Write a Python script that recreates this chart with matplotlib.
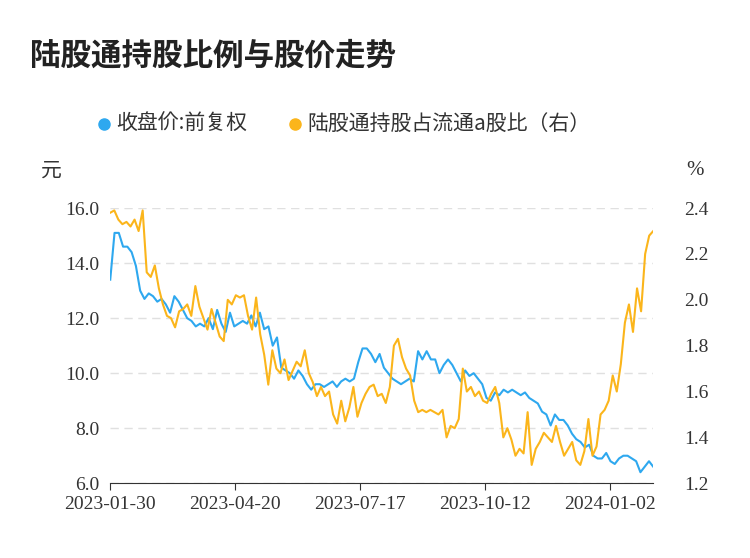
import numpy as np
import matplotlib
matplotlib.use("Agg")
import matplotlib.pyplot as plt
from matplotlib import font_manager as fm

dates = ["2023-01-30", "2023-04-20", "2023-07-17", "2023-10-12", "2024-01-02"]
price = [13.4, 15.1, 15.1, 14.6, 14.6, 14.4, 13.9, 13.0, 12.7, 12.9, 12.8, 12.6, 12.7, 12.5, 12.2, 12.8,
         12.6, 12.3, 12.0, 11.9, 11.7, 11.8, 11.7, 12.0, 11.6, 12.3, 11.8, 11.5, 12.2, 11.7, 11.8, 11.9,
         11.8, 12.1, 11.7, 12.2, 11.6, 11.7, 11.0, 11.3, 10.2, 10.1, 10.0, 9.8, 10.1, 9.9, 9.6, 9.4, 9.6,
         9.6, 9.5, 9.6, 9.7, 9.5, 9.7, 9.8, 9.7, 9.8, 10.4, 10.9, 10.9, 10.7, 10.4, 10.7, 10.2, 10.0, 9.8,
         9.7, 9.6, 9.7, 9.8, 9.7, 10.8, 10.5, 10.8, 10.5, 10.5, 10.0, 10.3, 10.5, 10.3, 10.0, 9.7, 10.1,
         9.9, 10.0, 9.8, 9.6, 9.1, 9.0, 9.3, 9.2, 9.4, 9.3, 9.4, 9.3, 9.2, 9.3, 9.1, 9.0, 8.9, 8.6, 8.5,
         8.1, 8.5, 8.3, 8.3, 8.1, 7.8, 7.6, 7.5, 7.3, 7.4, 7.0, 6.9, 6.9, 7.1, 6.8, 6.7, 6.9, 7.0, 7.0,
         6.9, 6.8, 6.4, 6.6, 6.8, 6.6]
ratio = [2.38, 2.39, 2.35, 2.33, 2.34, 2.32, 2.35, 2.30, 2.39, 2.12, 2.10, 2.15, 2.05, 1.98, 1.93, 1.92,
         1.88, 1.95, 1.96, 1.98, 1.93, 2.06, 1.97, 1.92, 1.87, 1.96, 1.90, 1.84, 1.82, 2.00, 1.98, 2.02,
         2.01, 2.02, 1.93, 1.87, 2.01, 1.85, 1.76, 1.63, 1.78, 1.70, 1.68, 1.74, 1.65, 1.69, 1.73, 1.71,
         1.78, 1.68, 1.64, 1.58, 1.62, 1.58, 1.60, 1.50, 1.46, 1.56, 1.47, 1.53, 1.62, 1.49, 1.55, 1.59,
         1.62, 1.63, 1.58, 1.59, 1.55, 1.62, 1.80, 1.83, 1.75, 1.70, 1.67, 1.56, 1.51, 1.52, 1.51, 1.52,
         1.51, 1.50, 1.52, 1.40, 1.45, 1.44, 1.48, 1.70, 1.60, 1.62, 1.58, 1.60, 1.56, 1.55, 1.59, 1.62,
         1.55, 1.40, 1.44, 1.39, 1.32, 1.35, 1.33, 1.51, 1.28, 1.35, 1.38, 1.42, 1.40, 1.38, 1.45, 1.38,
         1.32, 1.35, 1.38, 1.30, 1.28, 1.34, 1.48, 1.32, 1.36, 1.50, 1.52, 1.56, 1.67, 1.60, 1.72, 1.90,
         1.98, 1.86, 2.05, 1.95, 2.20, 2.28, 2.30]

def cjk_props(size, weight="normal"):
    files = [f for f in fm.findSystemFonts() if "CJK" in f and ("Regular" in f or "Bold" in f)]
    want = "Bold" if weight == "bold" else "Regular"
    pick = [f for f in files if want in f] or files
    if pick:
        pick.sort(key=lambda f: (0 if "SC" in f or "ttc" in f else 1))
        return fm.FontProperties(fname=pick[0], size=size)
    return fm.FontProperties(family="Noto Sans CJK SC", size=size, weight=weight)

serif = "Liberation Serif"
blue, orange = "#2ea8ef", "#fbb51b"
END = 4.344

fig = plt.figure(figsize=(7.5, 5.58), dpi=100)
ax = fig.add_axes([0.147, 0.134, 0.724, 0.493])
ax2 = ax.twinx()
ax.plot(np.linspace(0, END, len(price)), price, color=blue, lw=1.5)
ax2.plot(np.linspace(0, END, len(ratio)), ratio, color=orange, lw=1.5)
ax.set_ylim(6, 16)
ax2.set_ylim(1.2, 2.4)
ax.set_xlim(0, END)
ax.set_yticks(np.arange(6, 16.1, 2))
ax.set_yticklabels([f"{v:.1f}" for v in np.arange(6, 16.1, 2)], fontfamily=serif, fontsize=14, color="#333")
ax2.set_yticks(np.arange(1.2, 2.41, 0.2))
ax2.set_yticklabels([f"{v:.1f}" for v in np.arange(1.2, 2.41, 0.2)], fontfamily=serif, fontsize=14, color="#333")
ax.set_xticks(range(len(dates)))
ax.set_xticklabels(dates, fontfamily=serif, fontsize=14, color="#333")
ax.grid(axis="y", color="#e0e0e0", ls=(0, (6, 4)), lw=1)
for a in (ax, ax2):
    for s in a.spines.values():
        s.set_visible(False)
    a.tick_params(length=0, pad=8)
ax2.tick_params(pad=22)
ax.spines["bottom"].set_visible(True)
ax.spines["bottom"].set_color("#333")
ax.tick_params(axis="x", length=5, color="#333", pad=4)

fig.text(0.04, 0.9, "陆股通持股比例与股价走势", fontproperties=cjk_props(22, "bold"), color="#222", va="center")
fig.text(0.055, 0.695, "元", fontproperties=cjk_props(15), color="#333", va="center")
fig.text(0.915, 0.695, "%", fontfamily=serif, fontsize=15, color="#333", va="center")
fig.lines.append(plt.Line2D([0.138], [0.778], marker="o", color=blue, ms=8, transform=fig.transFigure))
fig.text(0.155, 0.778, "收盘价:前复权", fontproperties=cjk_props(15), color="#333", va="center")
fig.lines.append(plt.Line2D([0.393], [0.778], marker="o", color=orange, ms=8, transform=fig.transFigure))
fig.text(0.41, 0.778, "陆股通持股占流通a股比（右）", fontproperties=cjk_props(15), color="#333", va="center")
fig.savefig("out.png", dpi=100, facecolor="white")
